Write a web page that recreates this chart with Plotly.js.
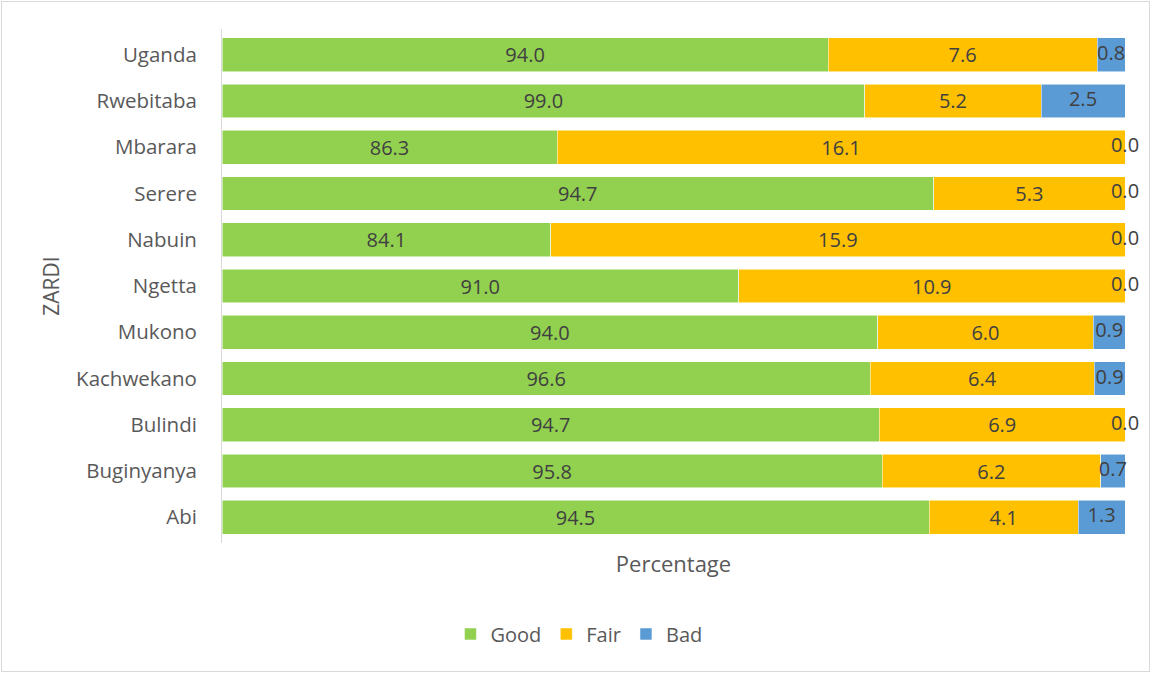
<!DOCTYPE html>
<html>
<head>
<meta charset="utf-8">
<script src="https://cdn.plot.ly/plotly-3.0.1.min.js"></script>
<style>
  html, body { margin: 0; padding: 0; background: #ffffff; }
  #wrap { position: relative; width: 1151px; height: 673px; }
  #chart { width: 1151px; height: 673px; }
  #frame { position: absolute; left: 1px; top: 1px; width: 1147px; height: 669px;
           border: 1px solid #d9d9d9; pointer-events: none; }
</style>
</head>
<body>
<div id="wrap"><div id="chart"></div><div id="frame"></div></div>
<script>
// Categories (top to bottom)
const categories = ['Uganda','Rwebitaba','Mbarara','Serere','Nabuin','Ngetta','Mukono','Kachwekano','Bulindi','Buginyanya','Abi'];

// Bar segment shares (as drawn)
const goodShare = [67.2, 71.2, 37.1, 78.8, 36.4, 57.2, 72.6, 71.8, 72.8, 73.1, 78.3];
const fairShare = [29.8, 19.5, 62.9, 21.2, 63.6, 42.8, 23.9, 24.8, 27.2, 24.2, 16.5];
const badShare  = [ 3.1,  9.3,  0.0,  0.0,  0.0,  0.0,  3.5,  3.4,  0.0,  2.7,  5.2];

// Data label values (percentages shown on the bars)
const goodPct = [94.0, 99.0, 86.3, 94.7, 84.1, 91.0, 94.0, 96.6, 94.7, 95.8, 94.5];
const fairPct = [7.6, 5.2, 16.1, 5.3, 15.9, 10.9, 6.0, 6.4, 6.9, 6.2, 4.1];
const badPct  = [0.8, 2.5, 0.0, 0.0, 0.0, 0.0, 0.9, 0.9, 0.0, 0.7, 1.3];

const seriesNames = ['Good', 'Fair', 'Bad'];
const colors = ['#92D050', '#FFC000', '#5B9BD5'];
const FONT = '"Open Sans", "Noto Sans", sans-serif';
const labelFont = {family: FONT, size: 20, color: '#404040'};

function barTrace(i, share, pct) {
  return {
    type: 'bar', orientation: 'h', name: seriesNames[i],
    y: categories, x: share, text: pct,
    texttemplate: '%{text:.1f}', textposition: 'inside', insidetextanchor: 'middle',
    textfont: labelFont, constraintext: 'none',
    marker: {color: colors[i], line: {color: 'rgba(255,255,255,0.7)', width: 0.75}},
    hoverinfo: 'skip'
  };
}

// Bad labels placed at centre of Bad segment (normalised to 100)
const badX = categories.map((c, k) => {
  const t = goodShare[k] + fairShare[k] + badShare[k];
  return 100 * (goodShare[k] + fairShare[k] + badShare[k] / 2) / t;
});

const traces = [
  barTrace(0, goodShare, goodPct),
  barTrace(1, fairShare, fairPct),
  {
    type: 'bar', orientation: 'h', name: seriesNames[2],
    y: categories, x: badShare,
    marker: {color: colors[2], line: {color: 'rgba(255,255,255,0.7)', width: 0.75}},
    hoverinfo: 'skip'
  },
  {
    type: 'scatter', mode: 'text', x: badX, y: categories, text: badPct,
    texttemplate: '%{text:.1f}', textposition: 'middle center', textfont: labelFont,
    showlegend: false, cliponaxis: false, hoverinfo: 'skip'
  }
];

const layout = {
  width: 1151, height: 673,
  margin: {l: 222, r: 26, t: 29, b: 130},
  paper_bgcolor: '#ffffff', plot_bgcolor: '#ffffff',
  barmode: 'stack', barnorm: 'percent', bargap: 0.27,
  font: {family: FONT, color: '#595959'},
  xaxis: {
    range: [0, 100], showticklabels: false, ticks: '', showgrid: false, zeroline: false,
    showline: false, fixedrange: true,
    title: {text: 'Percentage', font: {size: 22, color: '#595959'}, standoff: 13}
  },
  yaxis: {
    type: 'category', categoryorder: 'array', categoryarray: categories,
    autorange: 'reversed', showgrid: false, zeroline: false,
    showline: true, linecolor: '#d9d9d9', linewidth: 1, ticks: '',
    ticklabelstandoff: 20,
    tickfont: {size: 20.5, color: '#595959'},
    title: {text: 'ZARDI', font: {size: 21, color: '#595959'}, standoff: 10}
  },
  legend: {
    orientation: 'h', xref: 'container', yref: 'container',
    x: 0.503, xanchor: 'center', y: 0.058, yanchor: 'middle',
    font: {size: 20, color: '#595959'}, traceorder: 'normal'
  },
  showlegend: true
};

Plotly.newPlot('chart', traces, layout, {displayModeBar: false, staticPlot: true});
</script>
</body>
</html>
